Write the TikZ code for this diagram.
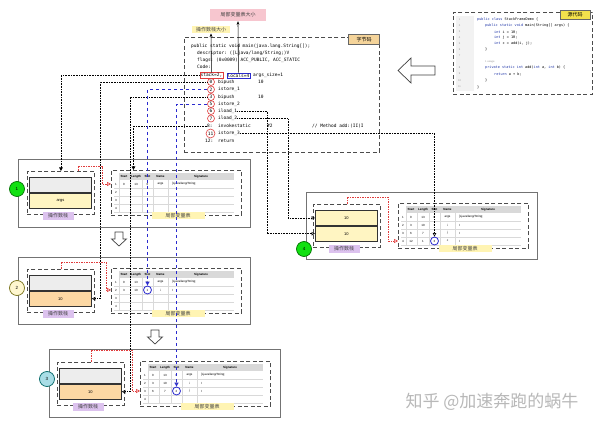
\documentclass[tikz,border=0pt]{standalone}
\usepackage{fontspec}
\setmainfont{Liberation Sans}
\setmonofont{DejaVu Sans Mono}
\newfontfamily\cjk{Noto Sans CJK SC}
\usetikzlibrary{arrows.meta,calc}
\definecolor{pinkl}{HTML}{F7C6CF}
\definecolor{yell}{HTML}{FFF4B3}
\definecolor{purl}{HTML}{DCC2EE}
\definecolor{tanl}{HTML}{F5D49A}
\definecolor{srcy}{HTML}{F2E14C}
\definecolor{cellg}{HTML}{EDEDED}
\definecolor{celly}{HTML}{FFF5C2}
\definecolor{cello}{HTML}{FCD8A4}
\definecolor{hdrg}{HTML}{D9D9D9}
\definecolor{bl}{HTML}{2B2BCF}
\definecolor{rd}{HTML}{E03C3C}
\definecolor{grn}{HTML}{12E012}
\definecolor{creaml}{HTML}{FFF7CF}
\definecolor{cyanl}{HTML}{A9DDE6}
\definecolor{kw}{HTML}{1F35A8}
\newcommand{\myfs}[1]{\fontsize{#1}{#1}\selectfont}
\newcommand{\kwd}[1]{\textcolor{kw}{#1}}
\tikzset{
 dbox/.style={draw=black!70, line width=0.9pt, dash pattern=on 4pt off 2.5pt},
 panel/.style={draw=black!55, line width=0.9pt, inner sep=0pt, anchor=north west},
 cellbox/.style={draw=black!80, line width=0.8pt, minimum width=62pt, minimum height=15pt, inner sep=0pt, font=\myfs{4}},
 oplbl/.style={fill=purl, minimum width=31pt, minimum height=8.5pt, inner sep=0pt, text=black!75, font=\cjk\myfs{5}},
 lvlbl/.style={fill=yell, minimum width=53pt, minimum height=7pt, inner sep=0pt, text=black!75, font=\cjk\myfs{5}},
 numc/.style={circle, minimum size=15pt, inner sep=0pt, line width=0.7pt, font=\myfs{4.5}},
 hd/.style={font=\bfseries\myfs{3}, inner sep=0pt},
 cel/.style={font=\myfs{3}, inner sep=0pt},
 tline/.style={draw=black!15, line width=0.3pt},
 slotc/.style={circle, draw=bl, line width=0.8pt, minimum size=8pt, inner sep=0pt},
 redc/.style={circle, draw=rd, line width=0.6pt, minimum size=7pt, inner sep=0pt, font=\ttfamily\myfs{4.5}},
 code/.style={anchor=west, inner sep=0pt, font=\ttfamily\myfs{4.5}},
 src/.style={anchor=west, inner sep=0pt, font=\ttfamily\myfs{3.5}},
 lnum/.style={inner sep=0pt, text=black!40, font=\myfs{2.6}},
 dotl/.style={densely dotted, line width=0.6pt, -{Triangle[open,length=3.5pt,width=3.5pt]}},
 dotf/.style={densely dotted, line width=0.6pt, -{Triangle[length=3.5pt,width=3.5pt]}},
 bluel/.style={draw=bl, dashed, line width=0.9pt, -{Triangle[open,length=4pt,width=4pt]}},
 redl/.style={draw=rd, dash pattern=on 1.5pt off 1pt, line width=0.6pt, -{Triangle[open,length=4pt,width=4pt]}},
 hollow/.style={draw=black!75, fill=white, line width=0.7pt},
 sizelbl/.style={inner sep=0pt, text=black!75, font=\cjk\myfs{5}},
 uparr/.style={line width=0.6pt, -{Stealth[length=3.5pt,width=2.8pt]}},
}
\newcommand{\opstack}[7]{%
  \node[dbox, minimum width=67pt, minimum height=43pt, inner sep=0pt, anchor=north west] (#1) at (#2,#3) {};
  \node[cellbox, fill=#4, anchor=north west] (#1t) at ($(#1.north west)+(2,6)$) {#5};
  \node[cellbox, fill=#6, anchor=north] (#1b) at (#1t.south) {#7};
  \node[oplbl] (#1l) at ($(#1.north west)+(31,45)$) {操作数栈};}
\newcommand{\lvrow}[7]{%
  \node[cel] (#1r#2a) at (13,{6+8*#2}) {#3};
  \node[cel] (#1r#2b) at (25,{6+8*#2}) {#4};
  \node[cel] (#1r#2c) at (36.5,{6+8*#2}) {#5};
  \node[cel] (#1r#2d) at (49.5,{6+8*#2}) {#6};
  \node[cel,anchor=west] (#1r#2e) at (61,{6+8*#2}) {#7};}
\newcommand{\lvtable}[5]{%
  \node[dbox, minimum width=130pt, minimum height=45pt, inner sep=0pt, anchor=north west] (#1) at (#2,#3) {};
  \begin{scope}[shift={(#2,#3)}]
    \fill[hdrg] (8,3) rectangle (123,10);
    \foreach \yy in {18,26,34,42} \draw[tline] (3,\yy) -- (123,\yy);
    \foreach \xx in {8,19,31,42,57} \draw[tline] (\xx,10) -- (\xx,42);
    \node[hd] (#1h1) at (13,6.5) {Start};
    \node[hd] (#1h2) at (25,6.5) {Length};
    \node[hd] (#1h3) at (36.5,6.5) {Slot};
    \node[hd] (#1h4) at (49.5,6.5) {Name};
    \node[hd] (#1h5) at (90,6.5) {Signature};
    \foreach \r in {1,2,3,4} \node[cel] (#1n\r) at (5,{6+8*\r}) {\r};
    \ifnum#4>0\relax\lvrow{#1}{1}{0}{13}{0}{args}{[Ljava/lang/String;}\fi
    \ifnum#4>1\relax\lvrow{#1}{2}{3}{10}{1}{i}{I}\fi
    \ifnum#4>2\relax\lvrow{#1}{3}{6}{7}{2}{j}{I}\fi
    \ifnum#4>3\relax\lvrow{#1}{4}{12}{1}{3}{c}{I}\fi
    \ifnum#5>0\relax\node[slotc] (#1s) at (36.5,{6+8*#5}) {};\fi
  \end{scope}
  \node[lvlbl] (#1l) at ($(#1.north west)+(67,46)$) {局部变量表};}
\begin{document}
\begin{tikzpicture}[x=1pt,y=-1pt]
\useasboundingbox (0,0) rectangle (600,427);
\fill[white] (0,0) rectangle (600,427);

% ---------- top size labels ----------
\node[sizelbl, fill=pinkl, minimum width=56pt, minimum height=12pt] (lblL) at (238,15) {局部变量表大小};
\node[sizelbl, fill=yell, minimum width=38pt, minimum height=7.5pt] (lblS) at (211,29.5) {操作数栈大小};

% ---------- bytecode box ----------
\node[dbox, anchor=north west, minimum width=195pt, minimum height=115pt, inner sep=0pt] (bcbox) at (184,37) {};
\node[fill=tanl, draw=black!60, line width=0.5pt, minimum width=31pt, minimum height=9.5pt, inner sep=0pt, font=\cjk\myfs{5}] (bcl) at (364,39.5) {字节码};
\node[code] (b1) at (191,46) {public static void main(java.lang.String[]);};
\node[code] (b2) at (197,53) {descriptor: ([Ljava/lang/String;)V};
\node[code] (b3) at (197,60) {flags: (0x0009) ACC\_PUBLIC, ACC\_STATIC};
\node[code] (b4) at (197,67) {Code:};
\node[code, draw=rd, line width=0.6pt, inner sep=0.8pt] (stk) at (199.5,75.5) {stack=2,};
\node[code, draw=bl, line width=0.6pt, inner sep=0.8pt] (loc) at (226.5,75.5) {locals=4};
\node[code] (b5) at (253,75.5) {args\_size=1};
\node[redc] (c0) at (211,82) {0};   \node[code] (i0) at (218,82) {bipush};   \node[code] (o0) at (258,82) {10};
\node[redc] (c2) at (211,89.5) {2}; \node[code] (i2) at (218,89.5) {istore\_1};
\node[redc] (c3) at (211,97) {3};   \node[code] (i3) at (218,97) {bipush};   \node[code] (o3) at (258,97) {10};
\node[redc] (c5) at (211,104) {5};  \node[code] (i5) at (218,104) {istore\_2};
\node[redc] (c6) at (211,111) {6};  \node[code] (i6) at (218,111) {iload\_1};
\node[redc] (c7) at (211,118.5) {7};\node[code] (i7) at (218,118.5) {iload\_2};
\node[code] (c8) at (207,126) {8:}; \node[code] (i8) at (218,126) {invokestatic};
\node[code] (o8) at (267,126) {\#2}; \node[code] (m8) at (312,126) {// Method add:(II)I};
\node[redc, minimum size=9pt] (c11) at (210.5,133.5) {11}; \node[code] (i11) at (218,133.5) {istore\_3};
\node[code] (c12) at (205,141) {12:}; \node[code] (i12) at (218,141) {return};

\draw[uparr] (stk.north) -- (lblS.south);
\draw[uparr] (loc.north) -- (lblL.south);

% ---------- source code box ----------
\node[dbox, anchor=north west, minimum width=139pt, minimum height=82pt, inner sep=0pt] (srcbox) at (453,12) {};
\fill[black!5] (456,16) rectangle (474,91);
\node[fill=srcy, draw=black!60, line width=0.5pt, minimum width=30pt, minimum height=9pt, inner sep=0pt, font=\cjk\myfs{5}] (srcl) at (575,14.5) {源代码};
\foreach \n/\yy in {1/20,2/26,3/32,4/37.5,5/43.5,6/49.5,7/55.5,8/68,9/74,10/80.5,11/87}
  \node[lnum] (ln\n) at (459.5,\yy) {\n};
\node[src] (s1) at (477,20) {\kwd{public class} StackFrameDemo \{};
\node[src] (s2) at (485,26) {\kwd{public static void} main(String[] args) \{};
\node[src] (s3) at (494,32) {\kwd{int} i = 10;};
\node[src] (s4) at (494,37.5) {\kwd{int} j = 10;};
\node[src] (s5) at (494,43.5) {\kwd{int} c = add(i, j);};
\node[src] (s6) at (485,49.5) {\}};
\node[src, text=black!40, font=\myfs{2.6}] (s7) at (485,62) {1 usage};
\node[src] (s8) at (485,68) {\kwd{private static int} add(\kwd{int} a, \kwd{int} b) \{};
\node[src] (s9) at (494,74) {\kwd{return} a + b;};
\node[src] (s10) at (485,80.5) {\}};
\node[src] (s11) at (477,87) {\}};

% big hollow arrow
\draw[hollow] (398,70.5) -- (411,58) -- (411,66) -- (435,66) -- (435,75) -- (411,75) -- (411,83) -- cycle;

% ---------- panels ----------
\node[panel, minimum width=232pt, minimum height=68pt] (p1) at (18,159) {};
\node[panel, minimum width=232pt, minimum height=67pt] (p2) at (18,257) {};
\node[panel, minimum width=231pt, minimum height=68pt] (p3) at (49,349) {};
\node[panel, minimum width=231pt, minimum height=67pt] (p4) at (306,192) {};

\opstack{ob1}{27}{171}{cellg}{}{celly}{args}
\opstack{ob2}{27}{269}{cellg}{}{cello}{10}
\opstack{ob3}{57}{362}{cellg}{}{cello}{10}
\opstack{ob4}{313}{204}{celly}{10}{celly}{10}

\lvtable{tb1}{111}{170}{1}{0}
\lvtable{tb2}{111}{268}{2}{2}
\lvtable{tb3}{140}{361}{3}{3}
\lvtable{tb4}{398}{203}{4}{4}

\node[numc, fill=grn, draw=green!45!black] (n1) at (17,189) {1};
\node[numc, fill=creaml, draw=olive!80!black] (n2) at (17,288) {2};
\node[numc, fill=cyanl, draw=teal!80!black] (n3) at (47,379) {3};
\node[numc, fill=grn, draw=green!45!black] (n4) at (304,249) {4};

% hollow down arrows
\draw[hollow] (115,232) -- (123,232) -- (123,239) -- (126.5,239) -- (119,246) -- (111.5,239) -- (115,239) -- cycle;
\draw[hollow] (151,330) -- (159,330) -- (159,337) -- (162.5,337) -- (155,344) -- (147.5,337) -- (151,337) -- cycle;

% red dashed in panels
\draw[redl] ([xshift=17.5pt]ob1.north) |- (102,166) |- ([yshift=-14pt]tb1.north west);
\draw[redl] (ob2.north) |- (106,262) |- ([yshift=-22pt]tb2.north west);
\draw[redl] (ob3.north) |- (132,350) |- ([yshift=-30pt]tb3.north west);
\draw[redl] (ob4.north) |- (388,197) |- ([yshift=-38pt]tb4.north west);

% ---------- connectors from bytecode ----------
\draw[dotf] (stk.west) -| (ob1.north);
\draw[dotf] (c8.west) -| ([xshift=-43pt]tb1.north);
\draw[dotl] (c0.west) -- (c0.west -| 100,0) |- (ob2b.east);
\draw[dotl] (c3.west) -- (c3.west -| 130,0) |- (ob3b.east);
\draw[bluel] (c2.west) -| (tb2s.north);
\draw[bluel] (c5.west) -| (tb3s.north);
\draw[dotl] (i6.east) -- (i6.east -| 267,0) |- (ob4b.west);
\draw[dotl] (i7.east) -- (i7.east -| 288,0) |- (ob4t.west);
\draw[dotl] (i11.east) -| (tb4s.north);

% watermark
\node[text=black!28, font=\cjk\myfs{17}, inner sep=0pt] (wm) at (492,402) {知乎 @加速奔跑的蜗牛};
\end{tikzpicture}
\end{document}
